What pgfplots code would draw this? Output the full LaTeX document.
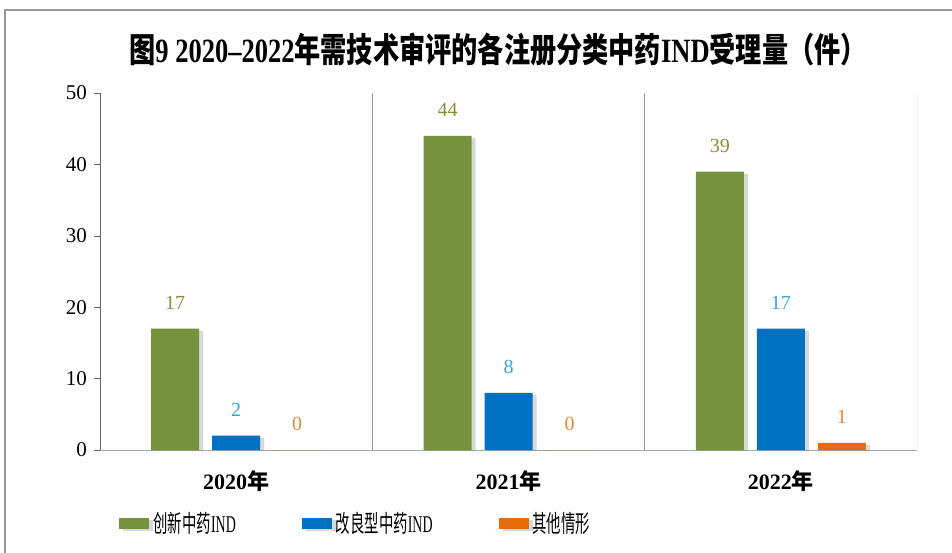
\documentclass[border=0pt]{standalone}
\usepackage{pgfplots}
\pgfplotsset{compat=1.18}
\usepackage{fontspec}
\setmainfont{Liberation Serif}
\newfontfamily\cjk{Noto Sans CJK SC}
\newfontfamily\cjkn[FakeStretch=0.6]{Noto Sans CJK SC}
\newfontfamily\serifl[FakeStretch=0.58]{Liberation Serif}
\newfontfamily\serifn[FakeStretch=0.78]{Liberation Serif}
\newfontfamily\cjkt[FakeStretch=0.77]{Noto Sans CJK SC}
\usetikzlibrary{shadows}
\definecolor{cgreen}{HTML}{76923C}
\definecolor{cblue}{HTML}{0070C0}
\definecolor{corange}{HTML}{E46C0A}
\definecolor{lgreen}{HTML}{8C8C3C}
\definecolor{lblue}{HTML}{3AA6D6}
\definecolor{lorange}{HTML}{D98A40}
\begin{document}
\begin{tikzpicture}
\path[use as bounding box] (-50pt,-51pt) rectangle (426pt,225pt);
\begin{axis}[
  scale only axis,
  width=408.5pt, height=178.5pt,
  xmin=-0.5, xmax=2.5, ymin=0, ymax=50,
  axis x line*=bottom, axis y line*=left,
  axis line style={gray!80!black},
  x axis line style={draw=gray!70, drop shadow={shadow xshift=0pt,shadow yshift=-1pt,opacity=0.3}},
  ytick={0,10,...,50},
  ytick style={gray!80!black},
  tick align=outside, major tick length=3pt,
  xtick={0,1,2},
  xticklabels={{\bfseries 2020{\cjk 年}},{\bfseries 2021{\cjk 年}},{\bfseries 2022{\cjk 年}}},
  xtick style={draw=none},
  xticklabel style={font=\fontsize{11}{13}\selectfont, yshift=-4pt},
  yticklabel style={font=\fontsize{10.5}{12}\selectfont},
  /pgf/number format/assume math mode=true,
  ybar, bar width=24pt,
  nodes near coords,
  every node near coord/.append style={font=\fontsize{10}{12}\selectfont, yshift=6pt},
  legend columns=3,
  legend style={at={(0.016,-0.207)}, anchor=west, draw=none,
    font=\fontsize{12}{14}\selectfont,
    /tikz/every even column/.append style={column sep=31pt}},
  legend image code/.code={\fill[#1] (0pt,-2.75pt) rectangle (15pt,2.75pt);},
]
\addplot[fill=cgreen, draw=none, bar shift=-30.5pt,
  drop shadow={shadow xshift=2pt,shadow yshift=-1pt,opacity=0.3},
  every node near coord/.append style={text=lgreen}]
  coordinates {(0,17) (1,44) (2,39)};
\addlegendentry{{\cjkn 创新中药}{\serifl IND}}
\addplot[fill=cblue, draw=none, bar shift=0pt,
  drop shadow={shadow xshift=2pt,shadow yshift=-1pt,opacity=0.3},
  every node near coord/.append style={text=lblue}]
  coordinates {(0,2) (1,8) (2,17)};
\addlegendentry{{\cjkn 改良型中药}{\serifl IND}}
\addplot[fill=corange, draw=none, bar shift=30.5pt,
  drop shadow={shadow xshift=2pt,shadow yshift=-1pt,opacity=0.3},
  every node near coord/.append style={text=lorange}]
  coordinates {(0,0) (1,0) (2,1)};
\addlegendentry{{\cjkn 其他情形}}
\draw[gray!80] (axis cs:0.5,0) -- (axis cs:0.5,50);
\draw[gray!80] (axis cs:1.5,0) -- (axis cs:1.5,50);
\draw[gray!80] (axis cs:2.5,0) -- (axis cs:2.5,50);
\end{axis}
\node[font=\fontsize{17}{20}\selectfont\bfseries] at (199pt,200pt)
  {{\cjkt 图}{\serifn 9 2020–2022}{\cjkt 年需技术审评的各注册分类中药}{\serifn IND}{\cjkt 受理量（件）}};
\draw[gray!80, line width=0.8pt] (-47.5pt,-52pt) rectangle (427pt,220pt);
\end{tikzpicture}
\end{document}
